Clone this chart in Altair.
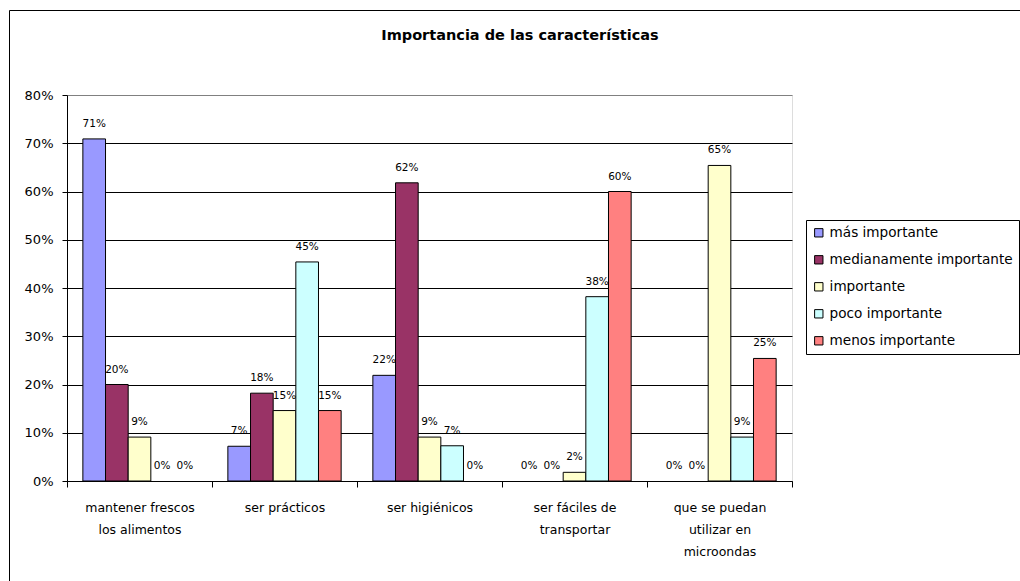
import altair as alt
import pandas as pd

categories = [
    "mantener frescos\nlos alimentos",
    "ser prácticos",
    "ser higiénicos",
    "ser fáciles de\ntransportar",
    "que se puedan\nutilizar en\nmicroondas",
]
series = ["más importante", "medianamente importante", "importante",
          "poco importante", "menos importante"]
mas_importante = [0.709, 0.072, 0.219, 0.0, 0.0]
medianamente_importante = [0.200, 0.182, 0.618, 0.0, 0.0]
importante = [0.091, 0.146, 0.091, 0.018, 0.654]
poco_importante = [0.0, 0.454, 0.073, 0.382, 0.091]
menos_importante = [0.0, 0.146, 0.0, 0.600, 0.254]
colors = ["#9999FF", "#993366", "#FFFFCC", "#CCFFFF", "#FF8080"]
title_text = "Importancia de las características"

values_by_series = [mas_importante, medianamente_importante, importante,
                    poco_importante, menos_importante]
rows = []
for s, vals in zip(series, values_by_series):
    for c, v in zip(categories, vals):
        rows.append({"cat": c, "serie": s, "valor": v})
df = pd.DataFrame(rows)

FONT = "DejaVu Sans"
W, H = 725, 386

x_enc = alt.X("cat:N", sort=categories, title=None,
              scale=alt.Scale(domain=categories, paddingInner=0, paddingOuter=0),
              axis=alt.Axis(labelAngle=0, labelExpr="split(datum.label, '\\n')",
                            labelFont=FONT, labelFontSize=12.5, labelColor="black",
                            labelLineHeight=22, labelPadding=14,
                            tickBand="extent", tickSize=6, tickColor="black",
                            domainColor="black", grid=False))
xoff = alt.XOffset("serie:N", sort=series,
                   scale=alt.Scale(domain=series, paddingInner=0, paddingOuter=0.7))
y_enc = alt.Y("valor:Q", title=None,
              scale=alt.Scale(domain=[0, 0.8], nice=False),
              axis=alt.Axis(format=".0%", values=[0, 0.1, 0.2, 0.3, 0.4, 0.5, 0.6, 0.7, 0.8],
                            labelFont=FONT, labelFontSize=13, labelColor="black",
                            tickSize=5, tickColor="black", domainColor="black",
                            labelPadding=9,
                            gridColor={"condition": {"test": "datum.value >= 0.8", "value": "#808080"},
                                       "value": "black"},
                            gridWidth=1))

base = alt.Chart(df)

bars = base.mark_bar(stroke="black", strokeWidth=1).encode(
    x=x_enc, xOffset=xoff, y=y_enc,
    color=alt.Color("serie:N", sort=series,
                    scale=alt.Scale(domain=series, range=colors),
                    legend=alt.Legend(title=None, orient="none", legendX=739, legendY=125,
                                      symbolType="square", symbolSize=70,
                                      symbolStrokeColor="black", symbolStrokeWidth=1,
                                      labelFont=FONT, labelFontSize=13.6, labelColor="black",
                                      labelLimit=400, rowPadding=12, labelOffset=4,
                                      strokeColor="black", fillColor="white",
                                      padding=6)),
).transform_filter("datum.valor > 0")

labels = base.mark_text(baseline="middle", align="center", dy=-15,
                        font=FONT, fontSize=10.5, color="black").encode(
    x=alt.X("cat:N", sort=categories), xOffset=alt.XOffset("serie:N", sort=series),
    y="valor:Q",
    text=alt.Text("valor:Q", format=".0%"),
)

title_df = pd.DataFrame({"t": [title_text]})
title = alt.Chart(title_df).mark_text(font=FONT, fontSize=14.5, fontWeight="bold",
                                      align="center", baseline="middle", color="black").encode(
    text="t:N", x=alt.value(453), y=alt.value(-59))

frame = alt.Chart(pd.DataFrame({"a": [0]})).mark_rect(fill=None, stroke="black",
                                                       strokeWidth=1).encode(
    x=alt.value(-57.5), x2=alt.value(1200), y=alt.value(-84.5), y2=alt.value(700))

chart = alt.layer(frame, bars, labels, title).properties(
    width=W, height=H,
    padding={"left": 67, "top": 95, "right": 1020 - 67 - W, "bottom": 581 - 95 - H},
    autosize="none",
).configure_view(fill="#C0C0C0", stroke="#808080", strokeWidth=1).configure(
    background="white")

chart.save("out.html", embed_options={"renderer": "svg", "actions": False})
